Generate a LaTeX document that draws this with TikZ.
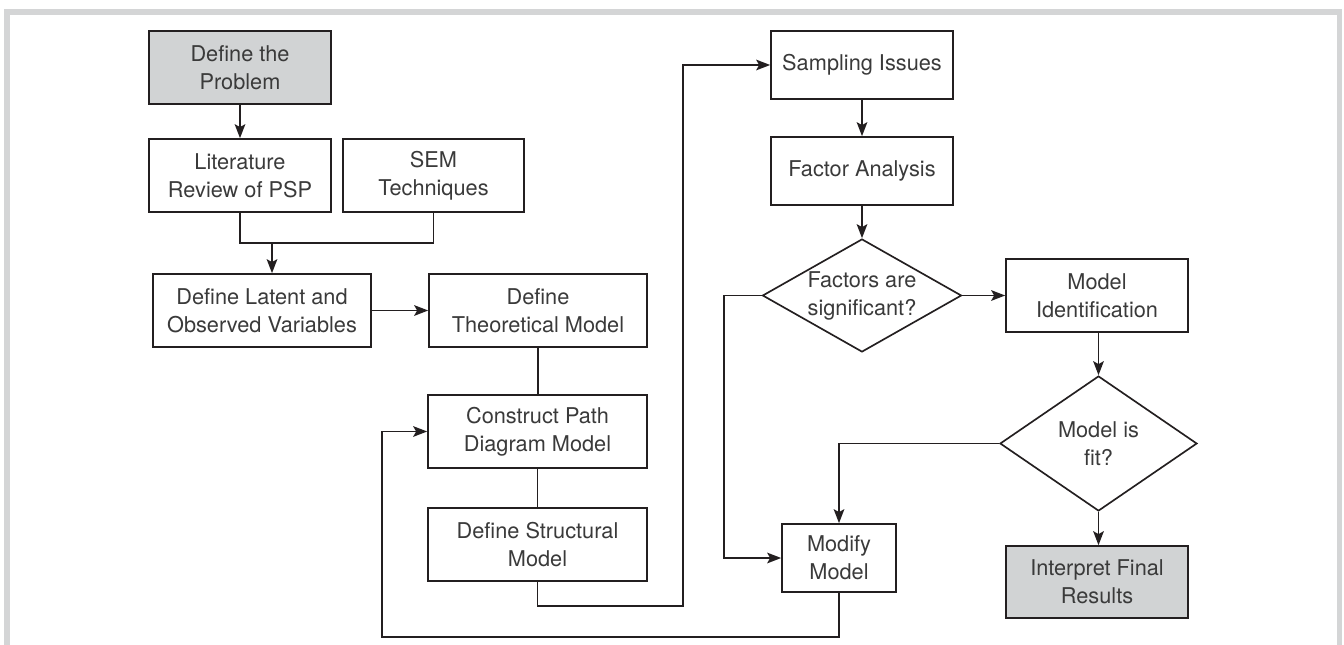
\documentclass[tikz,border=0pt]{standalone}
\usepackage{fontspec}
\setmainfont{TeX Gyre Heros}
\usetikzlibrary{shapes.geometric,arrows.meta}
\definecolor{linec}{HTML}{231F20}
\definecolor{textc}{HTML}{3A3A3A}
\definecolor{boxfill}{HTML}{D1D3D4}
\definecolor{framec}{HTML}{D4D5D6}
\tikzset{
  box/.style={draw=linec, line width=1.25pt, rectangle, inner sep=0pt,
    minimum width=136.5pt, minimum height=54.75pt, align=center,
    text=textc, font=\fontsize{16.3pt}{21pt}\selectfont},
  shaded/.style={fill=boxfill},
  decision/.style={draw=linec, line width=1.25pt, diamond, inner sep=0pt},
  lbl/.style={align=center, text=textc, font=\fontsize{16.3pt}{21pt}\selectfont, inner sep=0pt},
  conn/.style={draw=linec, line width=1.25pt},
  arr/.style={conn, -{Stealth[length=10.5pt,width=8pt,inset=2.2pt]}},
}
\begin{document}
\begin{tikzpicture}[x=0.75pt,y=-0.75pt]
\useasboundingbox (0,0) rectangle (1344,645);
% page frame
\draw[framec, line width=4.2pt, line join=miter] (6.8,645) -- (6.8,12) -- (1339.5,12) -- (1339.5,645);

% left column
\node[box, shaded] (prob) at (240,67.5) {Define the\\Problem};
\node[box] (lit) at (240,175.5) {Literature\\Review of PSP};
\node[box, minimum width=135.75pt] (sem) at (433.5,175.5) {SEM\\Techniques};
\node[box, minimum width=163.5pt] (lat) at (262,310.5) {Define Latent and\\Observed Variables};
\node[box, minimum width=163.5pt] (theo) at (538,310.5) {Define\\Theoretical Model};
\node[box, minimum width=164.25pt] (cons) at (537.5,431.5) {Construct Path\\Diagram Model};
\node[box, minimum width=164.25pt] (struc) at (537.5,544.5) {Define Structural\\Model};

% right part
\node[box, minimum height=51pt] (samp) at (862,65) {Sampling Issues};
\node[box, minimum height=51pt] (fa) at (862,171) {Factor Analysis};
\node[decision, minimum width=149.25pt, minimum height=84.75pt] (dfac) at (862,295.5) {};
\node[lbl] (dfact) at (dfac.center) {Factors are\\significant?};
\node[box] (mid) at (1097,295.5) {Model\\Identification};
\node[decision, minimum width=147.75pt, minimum height=101.25pt] (dfit) at (1098.5,443.5) {};
\node[lbl] (dfitt) at (dfit.center) {Model is\\fit?};
\node[box, shaded, minimum height=54pt] (interp) at (1097,582) {Interpret Final\\Results};
\node[box, minimum width=85.5pt, minimum height=51pt] (mod) at (839,558) {Modify\\Model};

% junction and bend points
\coordinate (jn) at (272,243);
\coordinate (r1) at (683,606);
\coordinate (l1) at (724,295.5);
\coordinate (b1) at (382,637);

% connectors
\draw[arr] (prob) -- (lit);
\draw[conn] (lit.south) |- (jn) -| (sem.south);
\draw[arr] (jn) -- (jn |- lat.north);
\draw[arr] (lat.east) -- (theo.west);
\draw[conn] (theo.south) -- (cons.north -| theo.south);
\draw[conn] (cons.south) -- (struc.north);
\draw[arr] (struc.south) |- (r1) |- (samp.west);
\draw[arr] (samp) -- (fa);
\draw[arr] (fa) -- (dfac.north);
\draw[arr] (dfac.east) -- (mid.west);
\draw[arr] (dfac.west) -- (l1) |- (mod.west);
\draw[arr] (mid.south -| dfit.north) -- (dfit.north);
\draw[arr] (dfit.south) -- (interp.north -| dfit.south);
\draw[arr] (dfit.west) -| (mod.north);
\draw[arr] (mod.south) |- (b1) |- (cons.west);
\end{tikzpicture}
\end{document}
